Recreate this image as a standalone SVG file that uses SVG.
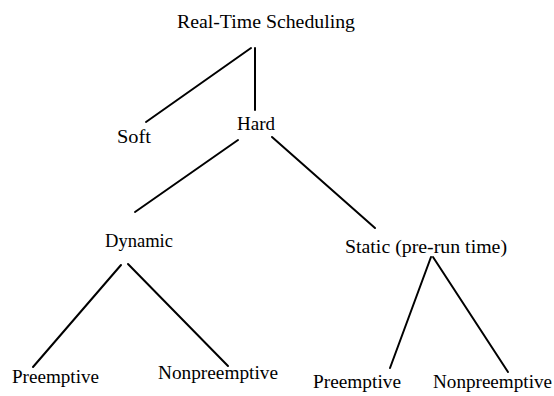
<svg xmlns="http://www.w3.org/2000/svg" width="554" height="396" viewBox="0 0 554 396">
<style>
text{font-family:"Liberation Serif","Times New Roman",serif;font-size:19px;fill:#000}
.c line{stroke:#000;stroke-width:2;stroke-linecap:round}
</style>
<rect width="554" height="396" fill="#fff"/>
<g class="c" id="connectors">
<line x1="251" y1="48" x2="146" y2="122"/>
<line x1="255" y1="48" x2="255" y2="110"/>
<line x1="238" y1="140" x2="135" y2="212"/>
<line x1="272" y1="137" x2="375" y2="228"/>
<line x1="121" y1="265" x2="33" y2="367"/>
<line x1="128" y1="264" x2="228" y2="366"/>
<line x1="431" y1="257" x2="390" y2="368"/>
<line x1="433" y1="257" x2="508" y2="372"/>
</g>
<g id="root"><text x="177" y="28" textLength="178" lengthAdjust="spacingAndGlyphs">Real-Time Scheduling</text></g>
<g id="soft"><text x="117" y="143" textLength="34" lengthAdjust="spacingAndGlyphs">Soft</text></g>
<g id="hard"><text x="237" y="130" textLength="38" lengthAdjust="spacingAndGlyphs">Hard</text></g>
<g id="dynamic"><text x="105" y="247" textLength="68" lengthAdjust="spacingAndGlyphs">Dynamic</text></g>
<g id="static"><text x="345" y="253" textLength="162" lengthAdjust="spacingAndGlyphs">Static (pre-run time)</text></g>
<g id="dyn-pre"><text x="12" y="383" textLength="87" lengthAdjust="spacingAndGlyphs">Preemptive</text></g>
<g id="dyn-nonpre"><text x="158" y="379" textLength="120" lengthAdjust="spacingAndGlyphs">Nonpreemptive</text></g>
<g id="sta-pre"><text x="313" y="388" textLength="88" lengthAdjust="spacingAndGlyphs">Preemptive</text></g>
<g id="sta-nonpre"><text x="433" y="388" textLength="119" lengthAdjust="spacingAndGlyphs">Nonpreemptive</text></g>
</svg>
